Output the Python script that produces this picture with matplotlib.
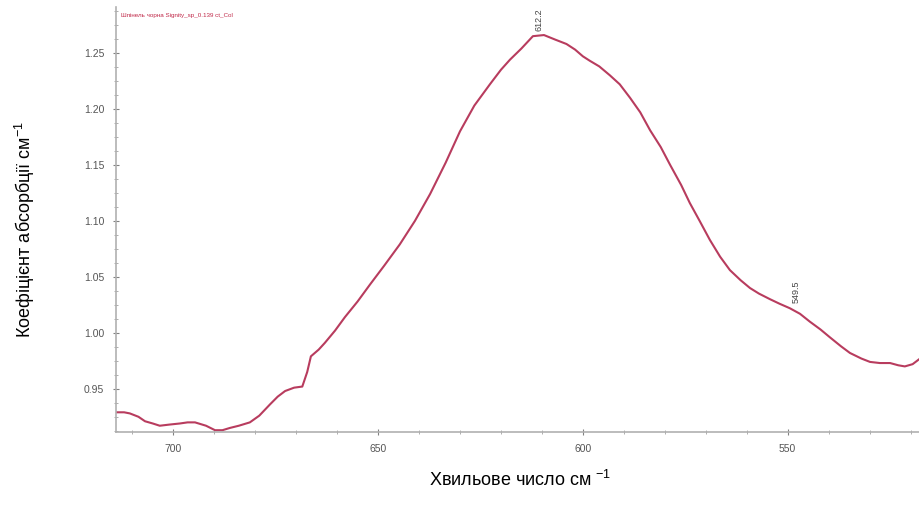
import matplotlib
matplotlib.use('Agg')
import matplotlib.pyplot as plt
from matplotlib.ticker import MultipleLocator

plt.rcParams['font.family'] = ['Liberation Sans', 'DejaVu Sans']

# Спектр поглинання (хвильове число, см-1 -> коефіцієнт абсорбції)
wavenumber = [714.0, 712.0, 710.6, 708.5, 706.9, 705.0, 703.3, 701.0, 698.4,
              696.5, 694.7, 692.0, 689.8, 688.0, 686.2, 684.0, 681.3, 679.0,
              676.4, 674.5, 672.7, 670.5, 668.5, 667.3, 666.4, 664.5, 663.0,
              660.5, 658.1, 655.0, 652.0, 648.5, 644.7, 641.0, 637.3, 633.5,
              630.0, 626.5, 622.7, 620.0, 617.8, 615.0, 612.2, 609.5, 606.8,
              604.0, 601.9, 600.0, 598.3, 596.0, 593.4, 591.0, 588.5, 586.0,
              583.6, 581.0, 578.7, 576.0, 573.9, 571.5, 569.0, 566.5, 564.1,
              561.5, 559.2, 557.0, 554.3, 552.0, 549.5, 547.0, 544.6, 542.0,
              539.7, 537.0, 534.8, 532.0, 529.9, 527.5, 525.0, 523.0, 521.4,
              519.5, 517.7]
absorbance = [0.929, 0.929, 0.928, 0.925, 0.921, 0.919, 0.917, 0.918, 0.919,
              0.920, 0.920, 0.917, 0.913, 0.913, 0.915, 0.917, 0.920, 0.926,
              0.936, 0.943, 0.948, 0.951, 0.952, 0.965, 0.979, 0.985, 0.991,
              1.002, 1.014, 1.028, 1.043, 1.060, 1.079, 1.100, 1.124, 1.152,
              1.180, 1.203, 1.222, 1.235, 1.244, 1.254, 1.265, 1.266, 1.262,
              1.258, 1.253, 1.247, 1.243, 1.238, 1.230, 1.222, 1.210, 1.197,
              1.181, 1.166, 1.150, 1.132, 1.116, 1.100, 1.083, 1.068, 1.056,
              1.047, 1.040, 1.035, 1.030, 1.026, 1.022, 1.017, 1.010, 1.003,
              0.996, 0.988, 0.982, 0.977, 0.974, 0.973, 0.973, 0.971, 0.970,
              0.972, 0.977]

peaks = [612.2, 549.5]
peak_vals = [1.266, 1.023]

fig = plt.figure(figsize=(9.2, 5.05), dpi=100)
ax = fig.add_axes([0.126, 0.145, 0.874, 0.841])

ax.plot(wavenumber, absorbance, color='#b83c5e', linewidth=1.5)

for p, v in zip(peaks, peak_vals):
    ax.text(p - 1.5, v + 0.004, f'{p}', rotation=90, fontsize=6.5,
            color='#444444', ha='center', va='bottom')

ax.text(0.006, 0.985, 'Шпінель чорна Signity_sp_0.139 ct_Col', transform=ax.transAxes,
        fontsize=4.5, color='#c02848', ha='left', va='top')

ax.set_xlim(714.0, 517.7)
ax.set_ylim(0.9116, 1.291)

ax.xaxis.set_major_locator(MultipleLocator(50))
ax.xaxis.set_minor_locator(MultipleLocator(10))
ax.yaxis.set_major_locator(MultipleLocator(0.05))
ax.yaxis.set_minor_locator(MultipleLocator(0.0125))
ax.yaxis.set_major_formatter(plt.FuncFormatter(lambda v, _: f'{v:.2f}'))

for s in ['top', 'right']:
    ax.spines[s].set_visible(False)
for s in ['left', 'bottom']:
    ax.spines[s].set_color('#b0b0b0')
    ax.spines[s].set_linewidth(1.2)

ax.tick_params(which='major', direction='inout', length=5, color='#808080',
               labelsize=7.5, labelcolor='#555555', pad=6)
ax.tick_params(which='minor', direction='inout', length=3, color='#a0a0a0')

fig.text(0.565, 0.03, 'Хвильове число см $^{\\mathregular{-1}}$', fontsize=13,
         ha='center', va='bottom')
fig.text(0.027, 0.545, 'Коефіцієнт абсорбції см$^{\\mathregular{-1}}$', fontsize=13,
         rotation=90, ha='center', va='center')

fig.savefig('out.png', dpi=100)
